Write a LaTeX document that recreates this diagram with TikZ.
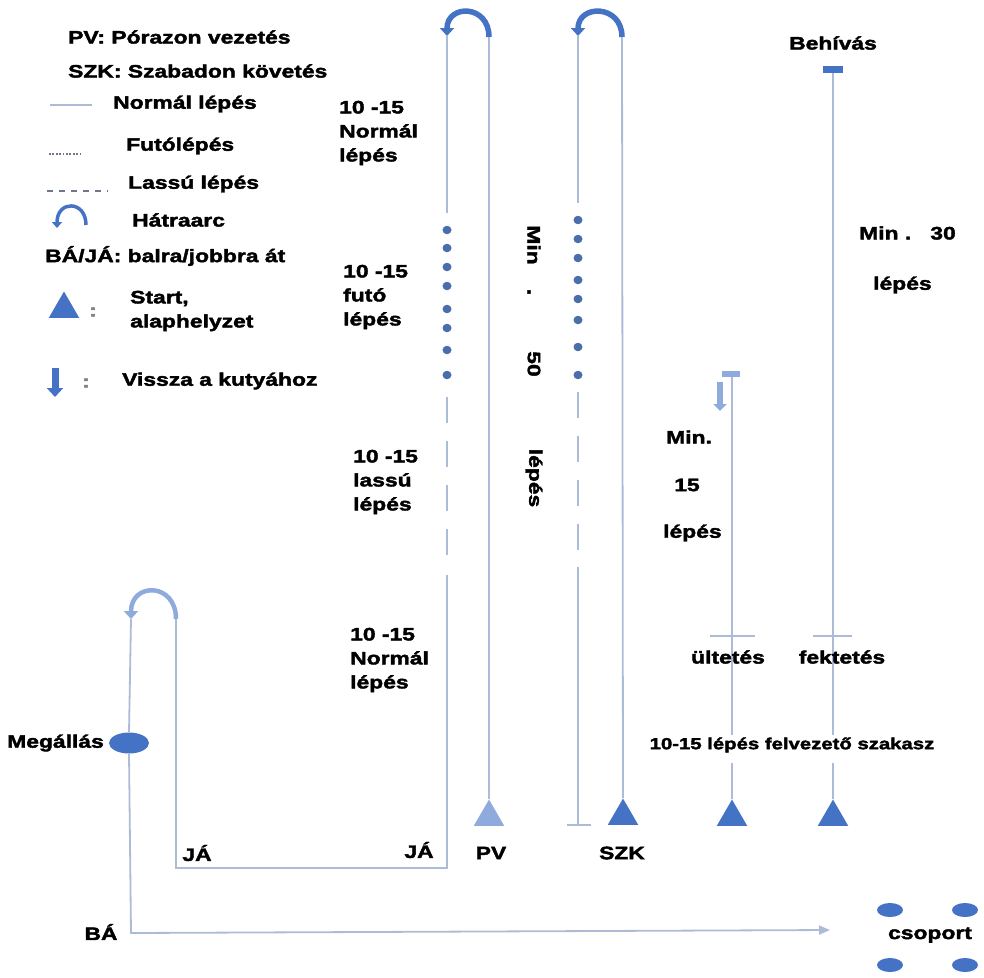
\documentclass[tikz,border=0pt]{standalone}
\usepackage{fontspec}
\setmainfont{Liberation Sans}[FakeStretch=1.27,BoldFeatures={FakeBold=2.2}]
\usetikzlibrary{arrows.meta,shapes.geometric,calc}
\definecolor{walkc}{RGB}{172,188,214}
\definecolor{dotc}{RGB}{74,110,170}
\definecolor{darkb}{RGB}{68,114,196}
\definecolor{lightb}{RGB}{143,170,220}
\definecolor{legc}{RGB}{110,120,138}

\begin{document}
\begin{tikzpicture}[x=1pt,y=-1pt,
lbl/.style={font=\fontsize{18}{24}\selectfont\bfseries,inner sep=0pt,align=left},
walk/.style={draw=walkc,line width=1.8pt},
slow/.style={walk,dash pattern=on 26pt off 18pt},
fast/.style={ellipse,fill=dotc,inner sep=0pt,minimum width=9pt,minimum height=8.5pt},
turn/.style={line width=5.5pt,-{Triangle[length=8pt,width=14pt]}},
start/.style={regular polygon,regular polygon sides=3,inner sep=0pt,minimum size=35pt,fill=darkb},
halt/.style={ellipse,fill=darkb,inner sep=0pt,minimum width=40pt,minimum height=21pt},
cuebox/.style={rectangle,inner sep=0pt,minimum width=20pt,minimum height=7pt},
tick/.style={draw=walkc,line width=1.5pt},
vtext/.style={lbl,rotate=-90}]
\useasboundingbox (0,0) rectangle (984,977);

\node[lbl,anchor=west] (legpv) at (68,37) {PV: Pórazon vezetés};
\node[lbl,anchor=west] (legszk) at (68,71) {SZK: Szabadon követés};
\draw[walk,line width=1.5pt] (50,105) -- (92,105);
\node[lbl,anchor=west] (legnorm) at (113,104) {Normál lépés};
\draw[legc,line width=1.8pt,dash pattern=on 1.8pt off 1.6pt] (49,154) -- (82,154);
\node[lbl,anchor=west] (legfut) at (126,146) {Futólépés};
\draw[legc,line width=1.4pt,dash pattern=on 6pt off 6pt] (47,191) -- (108,191);
\node[lbl,anchor=west] (leglas) at (128,184) {Lassú lépés};
\draw[darkb,line width=3.5pt,-{Triangle[length=6pt,width=10pt]}] (86,225) .. controls (86,200) and (57,200) .. (57,228);
\node[lbl,anchor=west] (leghat) at (132,220) {Hátraarc};
\node[lbl,anchor=west] (legbaja) at (45,256) {BÁ/JÁ: balra/jobbra át};
\node[start] (legstart) at (64,309) {};
\node[lbl,anchor=west,text=gray] (legc1) at (89,312) {:};
\node[lbl,anchor=west] (legstartt) at (130,311) {Start,\\alaphelyzet};
\draw[darkb,line width=7pt,-{Triangle[length=9pt,width=16pt]}] (55,368) -- (55,397);
\node[lbl,anchor=west,text=gray] (legc2) at (82,383) {:};
\node[lbl,anchor=west] (legvissza) at (122,381) {Vissza a kutyához};

\node[lbl,anchor=west] (n1) at (339,133) {10 -15\\Normál\\lépés};
\node[lbl,anchor=west] (f1) at (343,297) {10 -15\\futó\\lépés};
\node[lbl,anchor=west] (l1) at (353,482) {10 -15\\lassú\\lépés};
\node[lbl,anchor=west] (n2) at (350,660) {10 -15\\Normál\\lépés};

\node[start,fill=lightb] (pv) at (489,817) {};
\node[lbl] (pvt) at (491,853) {PV};
\coordinate (pvR) at (489,37);
\coordinate (pvL) at (447,36);
\coordinate (pva) at (447,213);
\coordinate (pvb) at (447,397);
\coordinate (pvc) at (447,555);
\coordinate (pvd) at (447,575);
\coordinate (ja1) at (447,868);
\coordinate (ja2) at (176,868);
\coordinate (blR) at (176,619);
\coordinate (blL) at (131,619);
\coordinate (ba) at (131,933);
\coordinate (cs) at (830,930);
\draw[walk] (pv.corner 1) -- (pvR);
\draw[turn,darkb] (pvR) .. controls ($(pvR)+(0,-33)$) and ($(pvL)+(0,-32)$) .. (pvL);
\draw[walk] (pvL) -- (pva);
\foreach \y in {230,248,267,286,309,328,350,375} \node[fast] (pvdot\y) at (447,\y) {};
\draw[slow] (pvb) -- (pvc);
\draw[walk] (pvd) -- (ja1) -- (ja2) -- (blR);
\node[lbl] (ja1t) at (419,850) {JÁ};
\node[lbl] (ja2t) at (197,853) {JÁ};

\node[start] (szk) at (623,816) {};
\node[lbl] (szkt) at (622,853) {SZK};
\coordinate (szR) at (622,37);
\coordinate (szL) at (578,36);
\coordinate (sza) at (578,203);
\coordinate (szb) at (578,392);
\coordinate (szc) at (578,553);
\coordinate (szd) at (578,567);
\coordinate (sze) at (578,825);
\draw[walk] (szk.corner 1) -- (szR);
\draw[turn,darkb] (szR) .. controls ($(szR)+(0,-33)$) and ($(szL)+(0,-32)$) .. (szL);
\draw[walk] (szL) -- (sza);
\foreach \y in {220,239,258,280,299,320,347,375} \node[fast] (szdot\y) at (578,\y) {};
\draw[slow] (szb) -- (szc);
\draw[walk] (szd) -- (sze);
\draw[tick] ($(sze)+(-11,0)$) -- ($(sze)+(13,0)$);

\node[vtext] (min50a) at (534,245) {Min};
\node[vtext] (min50b) at (529,292) {.};
\node[vtext] (min50c) at (534,364) {50};
\node[vtext] (min50d) at (534,478) {lépés};

\draw[turn,lightb,line width=4.5pt] (blR) .. controls (176,582) and (131,582) .. (blL);
\node[halt] (meg) at (129,743) {};
\node[lbl,anchor=east] (megt) at (104,743) {Megállás};
\draw[walk] (blL) -- (meg.north);
\draw[walk,-{Triangle[length=11pt,width=9pt]}] (meg.south) -- (ba) -- (cs);
\node[lbl] (bat) at (101,932) {BÁ};

\node[cuebox,fill=lightb,minimum width=18pt,minimum height=6pt] (ulcue) at (731,374) {};
\draw[lightb,line width=6pt,-{Triangle[length=7pt,width=13pt]}] (720,382) -- (720,411);
\node[start] (ul) at (732,817) {};
\coordinate (ula) at (732,735);
\coordinate (ulb) at (732,763);
\draw[walk] (ulcue.south -| ula) -- (ula);
\draw[walk] (ulb) -- (ul.corner 1);
\draw[tick] (710,636) -- (755,636);
\node[lbl,anchor=west] (ult1) at (666,437) {Min.};
\node[lbl] (ult2) at (687,485) {15};
\node[lbl,anchor=west] (ult3) at (663,533) {lépés};
\node[lbl] (ultt) at (728,657) {ültetés};

\node[cuebox,fill=darkb] (behcue) at (833,69) {};
\node[lbl] (beht) at (833,43) {Behívás};
\node[start] (fek) at (833,817) {};
\coordinate (feka) at (833,735);
\coordinate (fekb) at (833,763);
\draw[walk] (behcue.south) -- (feka);
\draw[walk] (fekb) -- (fek.corner 1);
\draw[tick] (813,636) -- (852,636);
\node[lbl] (fekt) at (842,657) {fektetés};
\node[lbl,anchor=west] (min30) at (859,233) {Min .~~~30};
\node[lbl,anchor=west] (min30b) at (873,285) {lépés};
\node[lbl,font=\fontsize{16}{20}\selectfont\bfseries] (felv) at (792,745) {10-15 lépés felvezető szakasz};

\node[halt,minimum width=26pt,minimum height=14pt] (cs1) at (890,910) {};
\node[halt,minimum width=26pt,minimum height=14pt] (cs2) at (965,910) {};
\node[halt,minimum width=26pt,minimum height=14pt] (cs3) at (890,965) {};
\node[halt,minimum width=26pt,minimum height=14pt] (cs4) at (965,965) {};
\node[lbl] (cst) at (930,935) {csoport};
\end{tikzpicture}
\end{document}
